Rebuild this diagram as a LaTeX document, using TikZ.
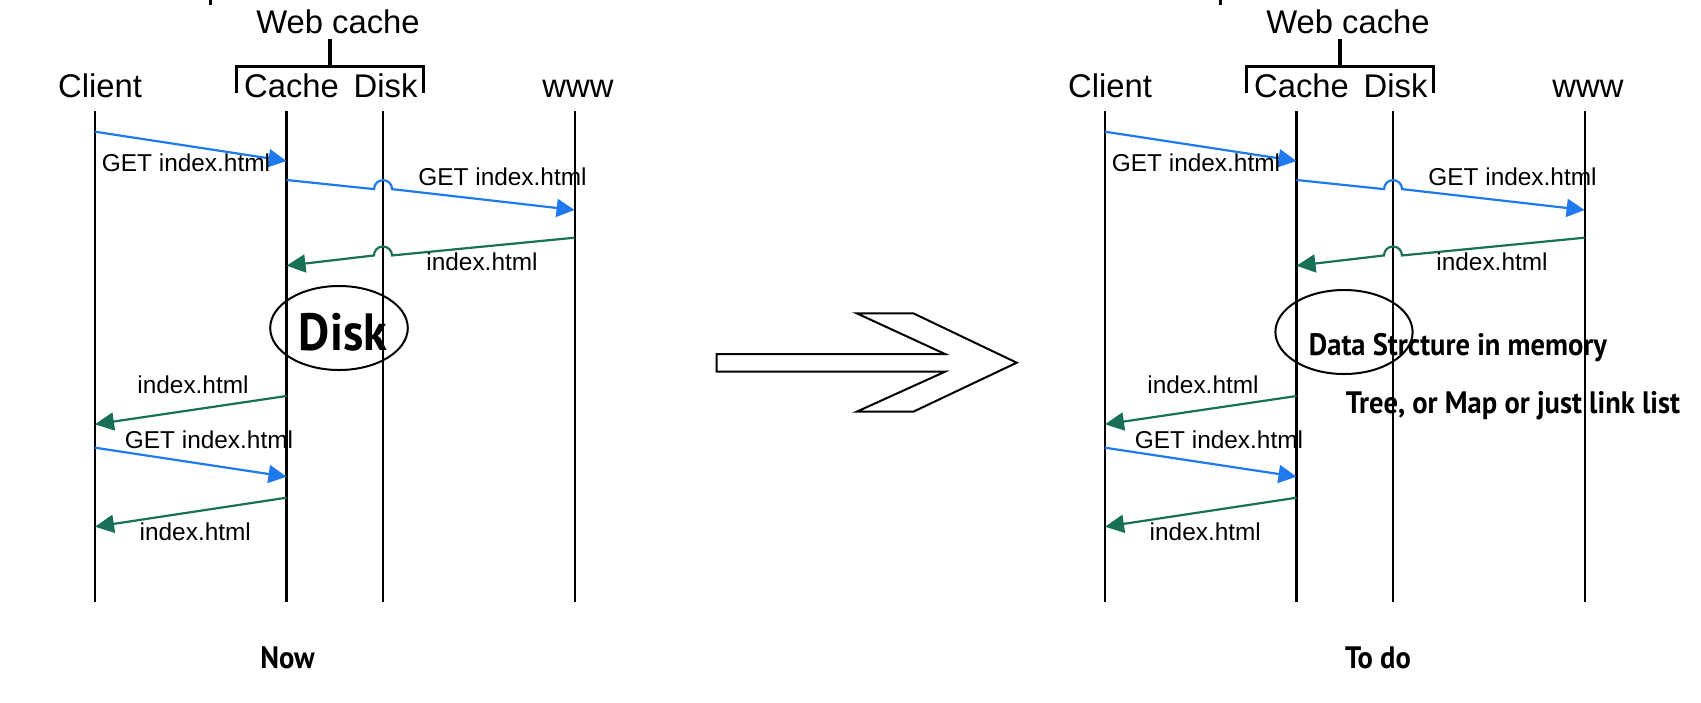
\documentclass[tikz,border=0pt]{standalone}
\usepackage{fontspec}
\setmainfont{Liberation Sans}
\newfontfamily\condfont[FakeStretch=0.92]{PT Sans}
\usetikzlibrary{arrows.meta,calc}
\definecolor{reqblue}{RGB}{30,122,238}
\definecolor{respgreen}{RGB}{24,112,88}

\begin{document}
\begin{tikzpicture}[x=0.5pt,y=-0.5pt,
    lifeline/.style={line width=1.1pt},
    bracket/.style={line width=1.7pt},
    req/.style={draw=reqblue,line width=1.1pt,-{Triangle[length=9pt,width=9pt]}},
    resp/.style={draw=respgreen,line width=1.1pt,-{Triangle[length=9.5pt,width=9pt]}},
    role/.style={inner sep=0pt,anchor=base,font=\fontsize{16.4}{19}\selectfont},
    msg/.style={inner sep=0pt,anchor=base,font=\fontsize{12.2}{14}\selectfont},
    note/.style={inner sep=0pt,anchor=base,font=\condfont\bfseries\fontsize{15.5}{18}\selectfont}]
  \useasboundingbox (0,0) rectangle (1701,702);

  \foreach \p/\dx in {L/0,R/1010}{
    \coordinate (clt\p) at (95+\dx,111);    \coordinate (clb\p) at (95+\dx,602);
    \coordinate (cat\p) at (286.5+\dx,111); \coordinate (cab\p) at (286.5+\dx,602);
    \coordinate (dkt\p) at (383+\dx,111);   \coordinate (dkb\p) at (383+\dx,602);
    \coordinate (wwt\p) at (574.6+\dx,111); \coordinate (wwb\p) at (574.6+\dx,602);
    \draw[lifeline] (clt\p) -- (clb\p);
    \draw[lifeline] (cat\p) -- (cab\p);
    \draw[lifeline] (dkt\p) -- (dkb\p);
    \draw[lifeline] (wwt\p) -- (wwb\p);

    \node[role] (cl\p) at (100+\dx,97) {Client};
    \node[role] (ca\p) at (291.5+\dx,97) {Cache};
    \node[role] (dk\p) at (385.6+\dx,97) {Disk};
    \node[role] (ww\p) at (578+\dx,97) {www};
    \node[role] (wc\p) at (338+\dx,33) {Web cache};

    \coordinate (brl\p) at (236.4+\dx,93.3);
    \coordinate (brr\p) at (423.2+\dx,93.3);
    \coordinate (brm\p) at (330+\dx,66.7);
    \coordinate (brs\p) at (330+\dx,39.3);
    \draw[bracket] (brl\p) |- (brm\p) -| (brr\p);
    \draw[bracket] (brm\p) -- (brs\p);
    \draw[line width=1.3pt] (210.7+\dx,0) -- (210.7+\dx,5);

    \coordinate (m1a\p) at (95+\dx,131.7);    \coordinate (m1b\p) at (286.5+\dx,161);
    \coordinate (m2a\p) at (286.5+\dx,180);   \coordinate (m2b\p) at (574.6+\dx,210);
    \coordinate (m3a\p) at (574.6+\dx,237.7); \coordinate (m3b\p) at (286.5+\dx,265.7);
    \coordinate (m4a\p) at (286.5+\dx,396);   \coordinate (m4b\p) at (95+\dx,424.3);
    \coordinate (m5a\p) at (95+\dx,447.7);    \coordinate (m5b\p) at (286.5+\dx,476.7);
    \coordinate (m6a\p) at (286.5+\dx,497.7); \coordinate (m6b\p) at (95+\dx,526.7);
    \coordinate (j2\p) at ($(m2a\p)!0.335!(m2b\p)$);
    \coordinate (j3\p) at ($(m3a\p)!0.665!(m3b\p)$);

    \draw[req] (m1a\p) -- (m1b\p);
    \draw[req] (m2a\p) -- ($(j2\p)!4.5pt!(m2a\p)$)
      arc[start angle=180,end angle=0,radius=4.5pt] -- (m2b\p);
    \draw[resp] (m3a\p) -- ($(j3\p)!4.5pt!(m3a\p)$)
      arc[start angle=0,end angle=180,radius=4.5pt] -- (m3b\p);
    \draw[resp] (m4a\p) -- (m4b\p);
    \draw[req] (m5a\p) -- (m5b\p);
    \draw[resp] (m6a\p) -- (m6b\p);

    \node[msg] (g1\p) at (186+\dx,171.7) {GET index.html};
    \node[msg] (g2\p) at (502.5+\dx,185) {GET index.html};
    \node[msg] (r3\p) at (482+\dx,270) {index.html};
    \node[msg] (r4\p) at (193+\dx,393.3) {index.html};
    \node[msg] (g5\p) at (209+\dx,448.3) {GET index.html};
    \node[msg] (r6\p) at (195.3+\dx,540.7) {index.html};
  }

  % now
  \coordinate (diskc) at (339,328);
  \draw[line width=1pt] (diskc) ellipse [x radius=34.4pt,y radius=21pt];
  \node[note,font=\condfont\bfseries\fontsize{26.2}{30}\selectfont] (disk) at (343,350) {Disk};
  \node[note] (now) at (287.5,668.3) {Now};

  % to do
  \coordinate (memc) at (1344,332);
  \draw[line width=1pt] (memc) ellipse [x radius=34.3pt,y radius=21pt];
  \node[note] (mem) at (1458,355) {Data Strcture in memory};
  \node[note] (kind) at (1513,413) {Tree, or Map or just link list};
  \node[note] (todo) at (1378,668.3) {To do};

  \draw[line width=1pt,line join=miter] (716.7,354) -- (945,354) -- (856.7,313.3)
    -- (913.3,313.3) -- (1016.7,362.7) -- (913.3,411.7) -- (856.7,411.7)
    -- (945,371.7) -- (716.7,371.7) -- cycle;
\end{tikzpicture}
\end{document}
